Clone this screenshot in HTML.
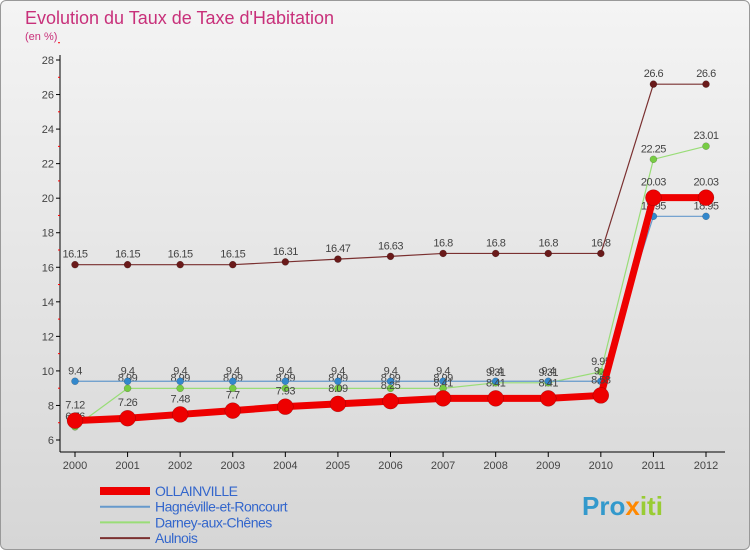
<!DOCTYPE html>
<html><head><meta charset="utf-8">
<style>
body{margin:0;width:750px;height:550px;overflow:hidden;font-family:"Liberation Sans",sans-serif;}
#wrap{position:absolute;left:0;top:0;width:748px;height:548px;border:1px solid #999;border-radius:6px;background:linear-gradient(#f4f4f4,#d6d6d6);}
</style></head><body>
<div id="wrap"></div>
<svg id="c" width="750" height="550" style="position:absolute;left:0;top:0"></svg>
<script>
const years=[2000,2001,2002,2003,2004,2005,2006,2007,2008,2009,2010,2011,2012];
const yTicks=[6,8,10,12,14,16,18,20,22,24,26,28];
const ollainville=[7.12,7.26,7.48,7.7,7.93,8.09,8.25,8.41,8.41,8.41,8.58,20.03,20.03];
const hagneville=[9.4,9.4,9.4,9.4,9.4,9.4,9.4,9.4,9.4,9.4,9.4,18.95,18.95];
const darney=[6.76,8.99,8.99,8.99,8.99,8.99,8.99,8.99,9.31,9.31,9.95,22.25,23.01];
const aulnois=[16.15,16.15,16.15,16.15,16.31,16.47,16.63,16.8,16.8,16.8,16.8,26.6,26.6];
const NS="http://www.w3.org/2000/svg";
const svg=document.getElementById('c');
const X=i=>75+i*(706-75)/12;
const Y=v=>440-(v-6)*(380/22);
function el(t,a,p){const e=document.createElementNS(NS,t);for(const k in a)e.setAttribute(k,a[k]);(p||svg).appendChild(e);return e;}
function txt(x,y,s,a,p){const e=el('text',Object.assign({x:x,y:y},a),p);e.textContent=s;return e;}
let t=txt(25,24,"Evolution du Taux de Taxe d'Habitation",{'font-size':18,fill:'#c8307a'});


t=txt(25,40,"(en %)",{'font-size':11,fill:'#c8307a'});


let ax=el('g',{});


el('line',{x1:60,y1:55,x2:60,y2:452,stroke:'#000'},ax);
yTicks.forEach(v=>{el('line',{x1:56,y1:Y(v),x2:60,y2:Y(v),stroke:'#000'},ax);
 el('line',{x1:58,y1:Y(v+1),x2:60,y2:Y(v+1),stroke:'red'},ax);
 const l=txt(54,Y(v)+4,String(v),{'font-size':11,fill:'#444','text-anchor':'end'},ax);
 
 });
let xa=el('g',{});


el('line',{x1:60,y1:452,x2:725,y2:452,stroke:'#000'},xa);
years.forEach((y,i)=>{el('line',{x1:X(i),y1:452,x2:X(i),y2:457,stroke:'#000'},xa);
 const l=txt(X(i),469,String(y),{'font-size':11,fill:'#444','text-anchor':'middle'},xa);
 
 });
function series(name,vals,color,w,r,fill,labelDy){
 const g=el('g',{});
 
 
 el('polyline',{points:vals.map((v,i)=>X(i)+','+Y(v)).join(' '),fill:'none',stroke:color,'stroke-width':w},g);
 vals.forEach((v,i)=>{const c=el('circle',{cx:X(i),cy:Y(v),r:r,fill:fill,stroke:'rgba(0,0,0,0.3)','stroke-width':0.5},g);
  
  
  const l=txt(X(i),Y(v)+labelDy,String(v),{'font-size':11,fill:'#444','text-anchor':'middle','letter-spacing':'-0.5'},g);
  
  });
}
series('aulnois-series',aulnois,'#7a3030',1.2,3.5,'#6a1a1a',-7);
series('darney-series',darney,'#99dd77',1.2,3.5,'#77cc44',-7);
series('hagneville-series',hagneville,'#6699cc',1.2,3.5,'#3388cc',-7);
series('ollainville-series',ollainville,'#ee0000',7,8,'#ee0000',-12);
const leg=[['OLLAINVILLE','#ee0000',8],['Hagnéville-et-Roncourt','#6699cc',2],['Darney-aux-Chênes','#99dd77',2],['Aulnois','#7a3030',2]];
leg.forEach((d,i)=>{const g=el('g',{});
 
 
 const y=491+i*15.7;
 el('line',{x1:100,y1:y,x2:150,y2:y,stroke:d[1],'stroke-width':d[2]},g);
 txt(155,y+5,d[0],{'font-size':14,fill:'#3366cc','letter-spacing':'-0.5'},g);});
t=txt(582,515,"Pro",{'font-size':26,'font-weight':'bold',fill:'#3399cc'});


const tx=el('tspan',{fill:'#ff8800'},t);tx.textContent='x';
const ti=el('tspan',{fill:'#99cc33'},t);ti.textContent='iti';
</script>
</body></html>
